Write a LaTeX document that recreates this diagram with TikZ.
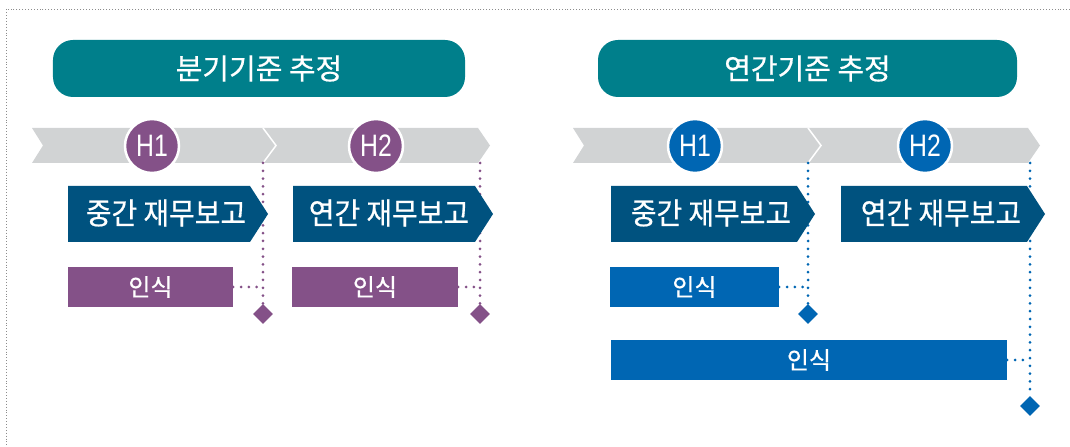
\documentclass[tikz,border=0pt]{standalone}
\usepackage{fontspec}
\setmainfont{Liberation Sans}
\newfontfamily\kr[FakeBold=0.6]{Noto Sans CJK KR}
\usetikzlibrary{calc}
\definecolor{tealc}{HTML}{007F8B}
\definecolor{purc}{HTML}{845188}
\definecolor{navyc}{HTML}{00527F}
\definecolor{bluec}{HTML}{0066B3}
\definecolor{bandc}{HTML}{D1D3D4}
\definecolor{borderc}{HTML}{8C8C8C}
\tikzset{
  frame/.style={draw=borderc, line width=0.9bp, dash pattern=on 0.9bp off 2bp},
  titlebox/.style={fill=tealc, rounded corners=20bp, minimum height=57bp, inner sep=0pt,
    text=white, font=\kr\fontsize{29bp}{32bp}\selectfont},
  band/.style={fill=bandc},
  bandsep/.style={draw=white, line width=1.5bp},
  hcircle/.style={circle, minimum size=54bp, inner sep=0pt, draw=white, line width=2.5bp,
    text=white, font=\fontsize{31bp}{32bp}\selectfont},
  penta/.style={fill=navyc},
  pentatext/.style={text=white, inner sep=0pt, font=\kr\fontsize{30bp}{32bp}\selectfont},
  recbox/.style={minimum height=40bp, inner sep=0pt, text=white,
    font=\kr\fontsize{24bp}{26bp}\selectfont},
  dotline/.style={line width=3bp, line cap=round, dash pattern=on 0bp off 7.8bp},
  diamondmark/.style={rectangle, rotate=45, minimum size=14bp, inner sep=0pt},
}
\newcommand{\hx}[1]{\scalebox{0.8}[1]{#1}}
\newcommand{\px}[1]{\scalebox{0.93}[1]{#1}}
\begin{document}
\begin{tikzpicture}[x=1bp,y=-1bp]
\useasboundingbox (0,0) rectangle (1070,447);
\draw[frame] (1070,9) -- (6,9) -- (6,447);

% ---------- left panel ----------
\node[titlebox, minimum width=412bp] (tL) at (259,68.5) {분기기준 추정};
\fill[band] (263,128) -- (478,128) -- (490,145.5) -- (478,163) -- (263,163) -- (276,145.5) -- cycle;
\fill[band] (32,128) -- (263,128) -- (276,145.5) -- (263,163) -- (32,163) -- (43,145.5) -- cycle;
\draw[bandsep] (263,128) -- (276,145.5) -- (263,163);
\coordinate (bL1) at (263,163);
\coordinate (bL2) at (480,163);
% dotted verticals
\node[diamondmark, fill=purc] (dL1) at (263,314) {};
\node[diamondmark, fill=purc] (dL2) at (480,314) {};
\draw[dotline, purc] (bL1) -- (dL1);
\draw[dotline, purc] (bL2) -- (dL2);
\node[hcircle, fill=purc] (cL1) at (152,146) {\hx{H1}};
\node[hcircle, fill=purc] (cL2) at (376,146) {\hx{H2}};
\fill[penta] (68,186) -- (250,186) -- (268,214) -- (250,242) -- (68,242) -- cycle;
\fill[penta] (293,186) -- (475,186) -- (493,214) -- (475,242) -- (293,242) -- cycle;
\node[pentatext] (pL1) at (166,213) {\px{중간 재무보고}};
\node[pentatext] (pL2) at (389,213) {\px{연간 재무보고}};
\node[recbox, fill=purc, minimum width=165bp] (rL1) at (150.5,287) {인식};
\node[recbox, fill=purc, minimum width=166bp] (rL2) at (375,287) {인식};
\coordinate (jL1) at (263,287);
\coordinate (jL2) at (480,287);
\draw[dotline, purc] (rL1.east) -- (jL1);
\draw[dotline, purc] (rL2.east) -- (jL2);

% ---------- right panel ----------
\node[titlebox, minimum width=419bp] (tR) at (807.5,68.5) {연간기준 추정};
\fill[band] (808,128) -- (1028,128) -- (1040,145.5) -- (1028,163) -- (808,163) -- (821,145.5) -- cycle;
\fill[band] (573,128) -- (808,128) -- (821,145.5) -- (808,163) -- (573,163) -- (584,145.5) -- cycle;
\draw[bandsep] (808,128) -- (821,145.5) -- (808,163);
\coordinate (bR1) at (808,163);
\coordinate (bR2) at (1030,163);
\node[diamondmark, fill=bluec] (dR1) at (808,314) {};
\node[diamondmark, fill=bluec] (dR2) at (1030,406) {};
\draw[dotline, bluec] (bR1) -- (dR1);
\draw[dotline, bluec] (bR2) -- (dR2);
\node[hcircle, fill=bluec] (cR1) at (695,146) {\hx{H1}};
\node[hcircle, fill=bluec] (cR2) at (925,146) {\hx{H2}};
\fill[penta] (611,186) -- (797,186) -- (815,214) -- (797,242) -- (611,242) -- cycle;
\fill[penta] (841,186) -- (1027,186) -- (1045,214) -- (1027,242) -- (841,242) -- cycle;
\node[pentatext] (pR1) at (711,213) {\px{중간 재무보고}};
\node[pentatext] (pR2) at (941,213) {\px{연간 재무보고}};
\node[recbox, fill=bluec, minimum width=169bp] (rR1) at (694.5,287) {인식};
\node[recbox, fill=bluec, minimum width=396bp] (rR2) at (809,360) {인식};
\coordinate (jR1) at (808,287);
\coordinate (jR2) at (1030,360);
\draw[dotline, bluec] (rR1.east) -- (jR1);
\draw[dotline, bluec] (rR2.east) -- (jR2);
\end{tikzpicture}
\end{document}
